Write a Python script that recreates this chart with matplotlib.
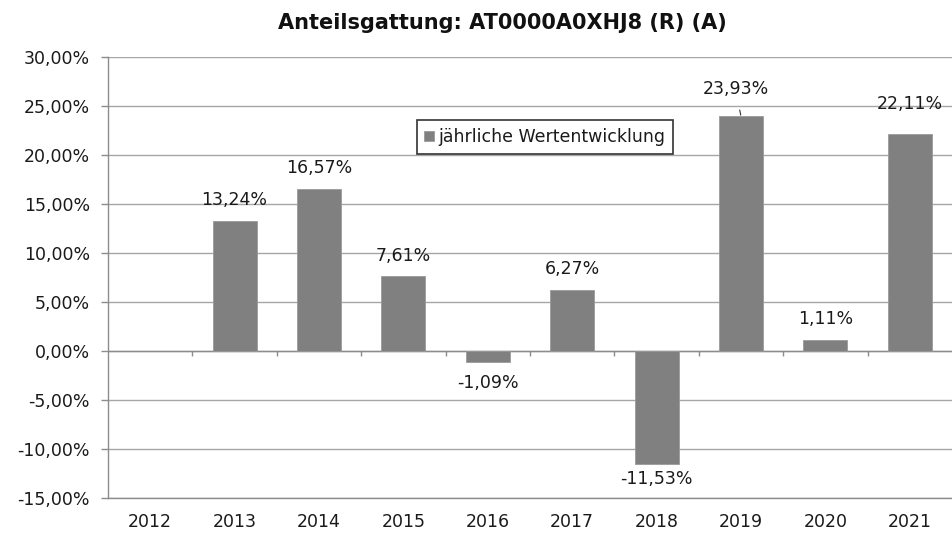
import numpy as np
import matplotlib.pyplot as plt

plt.rcParams['font.family'] = ['DejaVu Sans']

# Annual performance of the share class
years = ['2012', '2013', '2014', '2015', '2016', '2017', '2018', '2019', '2020', '2021']
returns = [np.nan, 13.24, 16.57, 7.61, -1.09, 6.27, -11.53, 23.93, 1.11, 22.11]
value_labels = ['', '13,24%', '16,57%', '7,61%', '-1,09%', '6,27%',
                '-11,53%', '23,93%', '1,11%', '22,11%']
y_ticks = [-15, -10, -5, 0, 5, 10, 15, 20, 25, 30]
y_tick_labels = ['-15,00%', '-10,00%', '-5,00%', '0,00%', '5,00%', '10,00%',
                 '15,00%', '20,00%', '25,00%', '30,00%']
title = 'Anteilsgattung: AT0000A0XHJ8 (R) (A)'
series_name = 'jährliche Wertentwicklung'

bar_color = '#808080'
grid_color = '#a6a6a6'
axis_color = '#8c8c8c'
text_color = '#1a1a1a'
fs = 12.5

fig = plt.figure(figsize=(9.52, 5.41), dpi=100)
ax = fig.add_axes([108 / 952, 1 - 498 / 541, 1 - 108 / 952, (498 - 57) / 541])

x = np.arange(len(years))
vals = np.array(returns, dtype=float)
mask = ~np.isnan(vals)
ax.bar(x[mask], vals[mask], width=0.52, color=bar_color,
       edgecolor='#9a9a9a', linewidth=0.6, zorder=3, label=series_name)

ax.set_xlim(-0.5, len(years) - 0.5)
ax.set_ylim(y_ticks[0], y_ticks[-1])
ax.set_yticks(y_ticks)
ax.set_yticklabels(y_tick_labels, fontsize=fs, color=text_color)
ax.set_xticks(x)
ax.set_xticklabels(years, fontsize=fs, color=text_color)

ax.yaxis.grid(True, color=grid_color, linewidth=1.0, zorder=0)
ax.xaxis.grid(False)
ax.set_axisbelow(True)

for side in ('top', 'right'):
    ax.spines[side].set_visible(False)
for side in ('left', 'bottom'):
    ax.spines[side].set_color(axis_color)
    ax.spines[side].set_linewidth(1.0)

ax.tick_params(axis='y', length=5, width=1.0, color=axis_color, pad=8, direction='out')
ax.tick_params(axis='x', length=0, pad=11)

# Category axis crossing at zero, with tick marks between categories
ax.axhline(0, color=axis_color, linewidth=1.0, zorder=2)
bounds = np.arange(len(years) - 1) + 0.5
ax.vlines(bounds, -0.5, 0, color=axis_color, linewidth=1.0, zorder=2)

# Value labels (offsets in points above / below the bar end)
label_offsets = {'2018': -11, '2021': 22}
for xi, v, lab in zip(x, returns, value_labels):
    if np.isnan(v):
        continue
    if years[xi] == '2019':
        ax.annotate(lab, xy=(xi, v), xytext=(-4, 20), textcoords='offset points',
                    ha='center', va='center', fontsize=fs, color=text_color,
                    arrowprops=dict(arrowstyle='-', color='#333333', lw=0.8,
                                    shrinkA=7, shrinkB=1, relpos=(0.5, 0.5)))
        continue
    off = label_offsets.get(years[xi], 15 if v >= 0 else -15)
    ax.annotate(lab, xy=(xi, v), xytext=(0, off), textcoords='offset points',
                ha='center', va='center', fontsize=fs, color=text_color)

leg = ax.legend(loc='center', bbox_to_anchor=(0.5175, 0.818), fontsize=fs,
                frameon=True, fancybox=False, handlelength=0.55, handleheight=0.55,
                handletextpad=0.25, borderpad=0.45, borderaxespad=0)
leg.get_frame().set_edgecolor('#000000')
leg.get_frame().set_linewidth(1.2)
for t in leg.get_texts():
    t.set_color(text_color)

fig.text(502 / 952, 1 - 23 / 541, title, ha='center', va='center',
         fontsize=15, fontweight='bold', color='#111111')

fig.savefig('out.png', dpi=100, facecolor='white')
